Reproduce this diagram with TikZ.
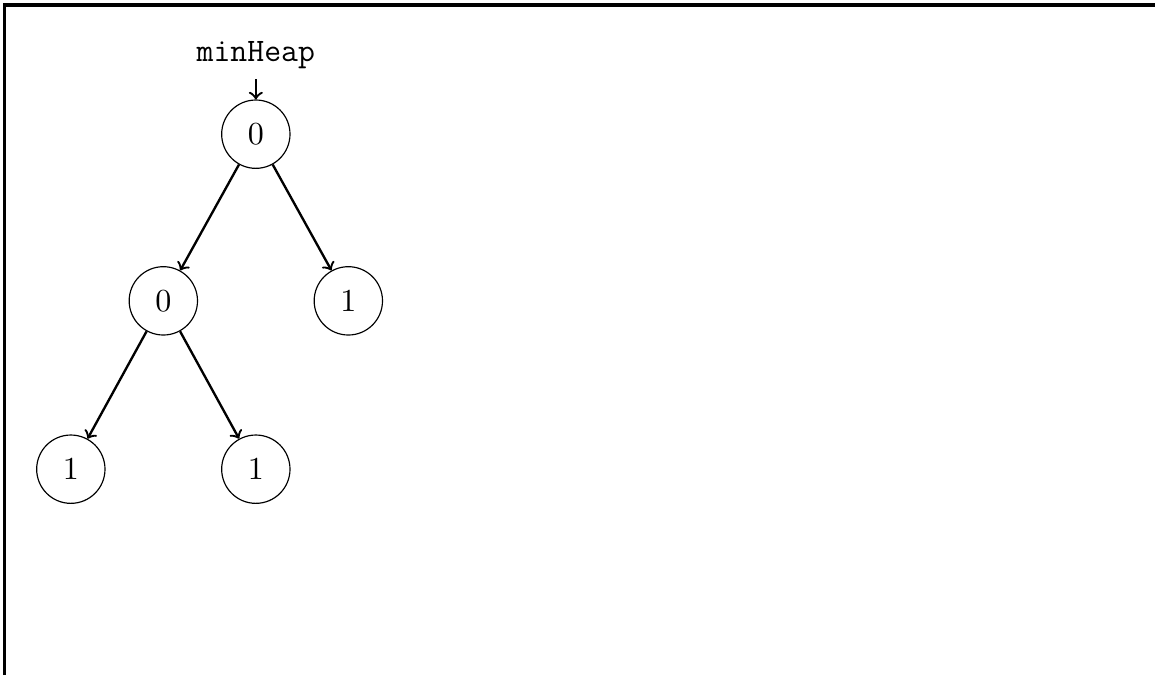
\documentclass[tikz,border=0pt]{standalone}
\begin{document}
\begin{tikzpicture}[>=to,font=\fontsize{11.2}{13}\selectfont,
		heapnode/.style={draw,circle,minimum size=0.82cm,inner sep=0pt},
		heapedge/.style={->,thick}]
			\useasboundingbox (0,0) rectangle (13.86,-8.1);
			\draw[line width=1.1pt] (0.05,-8.1) -- (0.05,-0.06) -- (13.86,-0.06);
			\node (label) at (3.07,-0.66) {\texttt{minHeap}};
			\node[heapnode] (root) at (3.07,-1.61) {$0$};
			\node[heapnode] (l) at (1.96,-3.61) {$0$};
			\node[heapnode] (r) at (4.18,-3.61) {$1$};
			\node[heapnode] (ll) at (0.85,-5.63) {$1$};
			\node[heapnode] (lr) at (3.07,-5.63) {$1$};
			\draw[heapedge] (label) -- (root);
			\draw[heapedge] (root) -- (l);
			\draw[heapedge] (root) -- (r);
			\draw[heapedge] (l) -- (ll);
			\draw[heapedge] (l) -- (lr);
	\end{tikzpicture}
\end{document}
